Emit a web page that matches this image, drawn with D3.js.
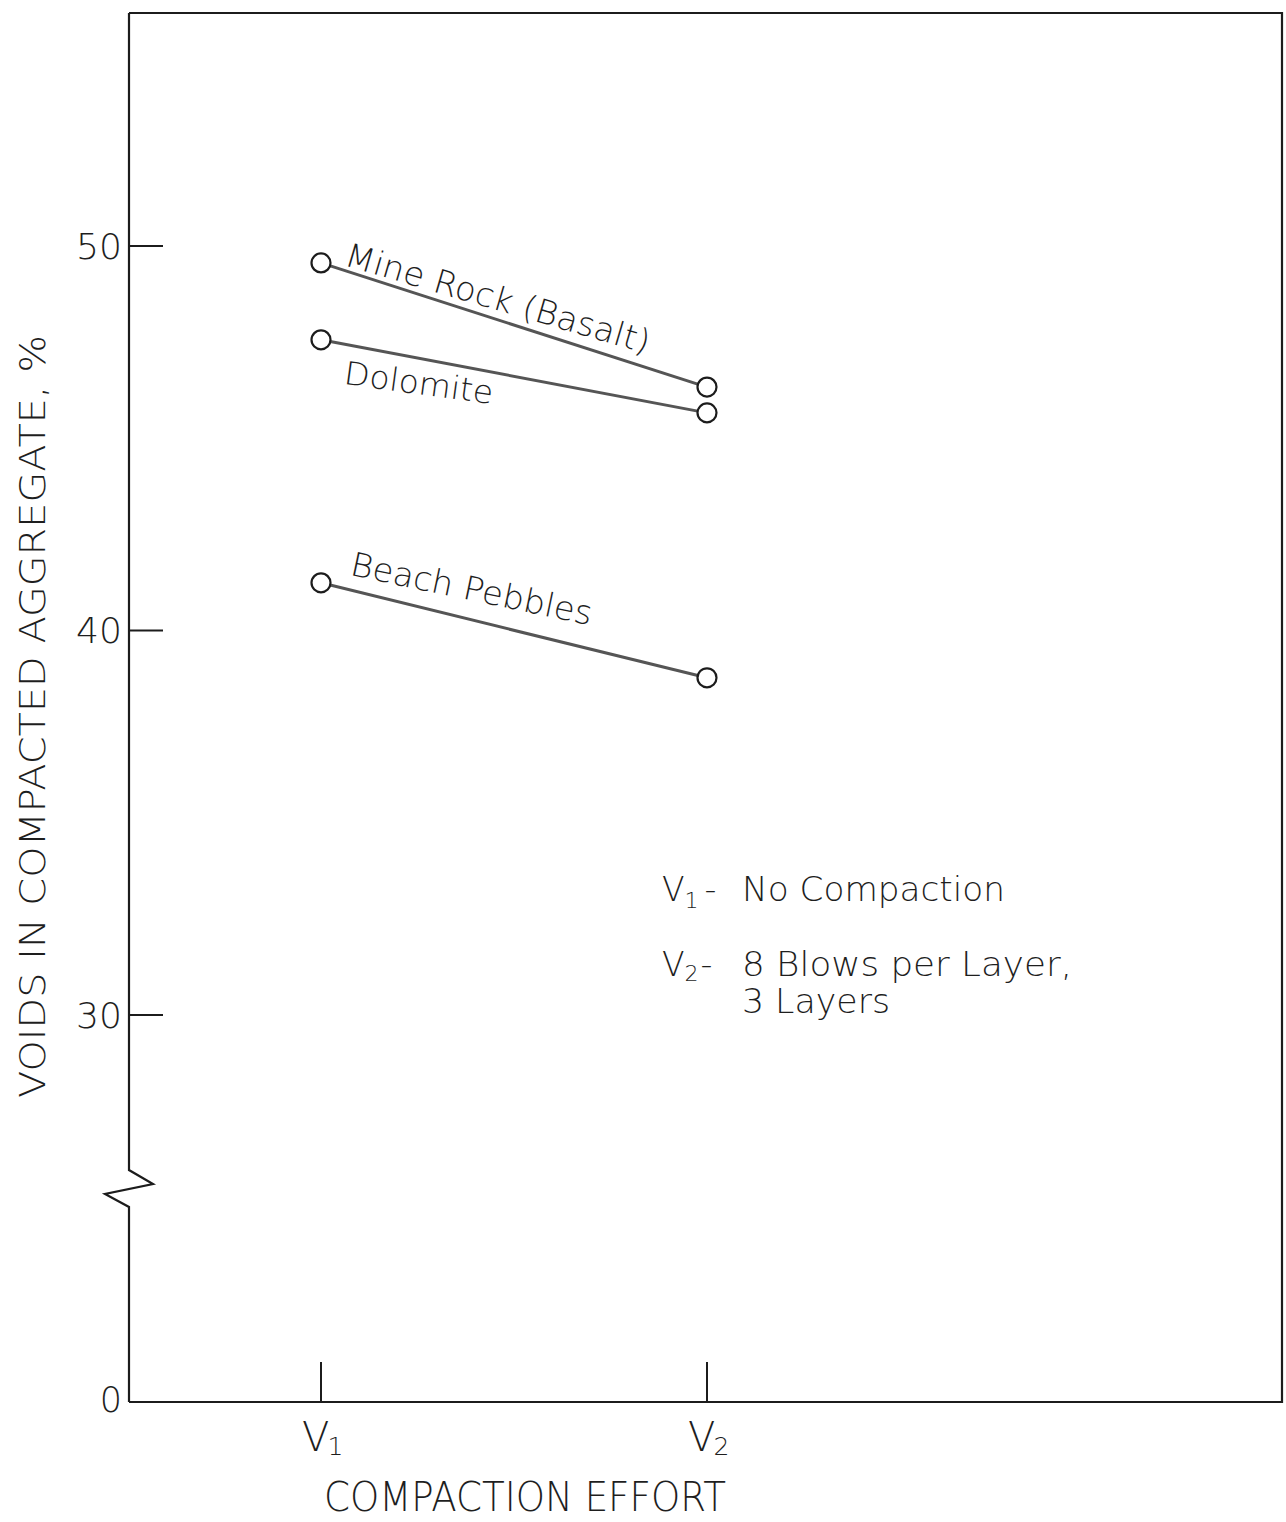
<!DOCTYPE html>
<html>
<head>
<meta charset="utf-8">
<script src="https://cdn.jsdelivr.net/npm/d3@7"></script>
<style>
  html, body { margin: 0; padding: 0; background: #fff; }
  svg text { font-family: "DejaVu Sans", sans-serif; font-weight: 200; fill: #1e1e1e; }
</style>
</head>
<body>
<svg id="chart" width="1286" height="1522"></svg>
<script>
// Compaction levels along the x axis
const categories = ["V1", "V2"];
const categorySubs = ["1", "2"];

// Voids in compacted aggregate, % (V1, V2)
const mineRock = [49.56, 46.33];
const dolomite = [47.56, 45.66];
const beachPebbles = [41.24, 38.77];

const seriesNames = ["Mine Rock (Basalt)", "Dolomite", "Beach Pebbles"];

// Y tick values and labels (axis is broken below 30, bottom reads 0)
const yTickValues = [50, 40, 30];
const yTickLabels = ["50", "40", "30"];
const yBottomValue = 20;
const yBottomLabel = "0";

const svg = d3.select("#chart");

const frame = { left: 129, right: 1282, top: 13, bottom: 1402 };

const x = d3.scalePoint().domain(categories).range([321, 707]);
const y = d3.scaleLinear().domain([30, 50]).range([1015, 246]);

const ink = "#1c1c1c";

// Frame: top, right, bottom edges
svg.append("path")
  .attr("d", `M${frame.left},${frame.top} H${frame.right} V${frame.bottom} H${frame.left}`)
  .attr("fill", "none").attr("stroke", ink).attr("stroke-width", 2.2);

// Left axis with break symbol
const breakTop = 1170, breakBot = 1207;
svg.append("path")
  .attr("d", `M${frame.left},${frame.top} V${breakTop} L${frame.left + 24},${breakTop + 14} L${frame.left - 24},${breakTop + 24} L${frame.left},${breakBot} V${frame.bottom}`)
  .attr("fill", "none").attr("stroke", ink).attr("stroke-width", 2.2)
  .attr("stroke-linejoin", "miter");

// Y ticks (inward) and labels
const yAxis = svg.append("g");
yAxis.selectAll("line").data(yTickValues).join("line")
  .attr("x1", frame.left).attr("x2", frame.left + 34)
  .attr("y1", d => y(d)).attr("y2", d => y(d))
  .attr("stroke", ink).attr("stroke-width", 2);
yAxis.selectAll("text").data(yTickValues).join("text")
  .attr("x", frame.left - 7).attr("y", d => y(d))
  .attr("dy", "0.36em")
  .attr("text-anchor", "end")
  .attr("font-size", 35)
  .attr("textLength", 46).attr("lengthAdjust", "spacingAndGlyphs")
  .text((d, i) => yTickLabels[i]);
yAxis.append("text")
  .attr("x", frame.left - 7).attr("y", y(yBottomValue))
  .attr("dy", "0.36em").attr("text-anchor", "end")
  .attr("font-size", 35)
  .text(yBottomLabel);

// X ticks (inward) and labels with subscripts
const xAxis = svg.append("g");
xAxis.selectAll("line").data(categories).join("line")
  .attr("x1", d => x(d)).attr("x2", d => x(d))
  .attr("y1", frame.bottom).attr("y2", frame.bottom - 40)
  .attr("stroke", ink).attr("stroke-width", 2);
const xl = xAxis.selectAll("text").data(categories).join("text")
  .attr("x", d => x(d) - 19).attr("y", 1451)
  .attr("font-size", 40);
xl.append("tspan").text("V");
xl.append("tspan").attr("font-size", 25).attr("dy", 4).attr("dx", -2).text((d, i) => categorySubs[i]);

svg.append("text")
  .attr("x", 324).attr("y", 1511)
  .attr("font-size", 41)
  .attr("textLength", 402).attr("lengthAdjust", "spacingAndGlyphs")
  .text("COMPACTION EFFORT");

svg.append("text")
  .attr("transform", "translate(45,1098) rotate(-90)")
  .attr("font-size", 36)
  .attr("textLength", 763).attr("lengthAdjust", "spacingAndGlyphs")
  .text("VOIDS IN COMPACTED AGGREGATE, %");

// Series lines and open markers
const series = [mineRock, dolomite, beachPebbles];
const line = d3.line().x((d, i) => x(categories[i])).y(d => y(d));
const g = svg.append("g");
g.selectAll("path.series").data(series).join("path")
  .attr("class", "series")
  .attr("d", line)
  .attr("fill", "none").attr("stroke", "#555").attr("stroke-width", 3);
series.forEach(vals => {
  g.selectAll(null).data(vals).join("circle")
    .attr("cx", (d, i) => x(categories[i]))
    .attr("cy", d => y(d))
    .attr("r", 9.5)
    .attr("fill", "#fff").attr("stroke", ink).attr("stroke-width", 2.2);
});

// Series labels, set along each line
function seriesLabel(vals, text, offX, offY, size, len, tilt) {
  const x0 = x(categories[0]), x1 = x(categories[1]);
  const y0 = y(vals[0]), y1 = y(vals[1]);
  const ang = Math.atan2(y1 - y0, x1 - x0) * 180 / Math.PI;
  svg.append("text")
    .attr("transform", `translate(${x0 + offX},${y0 + offY}) rotate(${ang + tilt})`)
    .attr("font-size", size)
    .attr("textLength", len).attr("lengthAdjust", "spacingAndGlyphs")
    .text(text);
}
seriesLabel(mineRock, seriesNames[0], 22, 2, 33, 316, -1.5);
seriesLabel(dolomite, seriesNames[1], 22, 44, 32, 150, -3);
seriesLabel(beachPebbles, seriesNames[2], 28, -8, 33, 246, -2);

// Legend for compaction levels
const legend = svg.append("g").attr("font-size", 33);
const l1 = legend.append("text").attr("x", 662).attr("y", 901);
l1.append("tspan").text("V");
l1.append("tspan").attr("font-size", 22).attr("dy", 7).text(categorySubs[0]);
l1.append("tspan").attr("dy", -7).attr("dx", 6).text("-");
legend.append("text").attr("x", 742).attr("y", 901)
  .attr("textLength", 263).attr("lengthAdjust", "spacingAndGlyphs").text("No Compaction");
const l2 = legend.append("text").attr("x", 662).attr("y", 976);
l2.append("tspan").text("V");
l2.append("tspan").attr("font-size", 22).attr("dy", 5).text(categorySubs[1]);
l2.append("tspan").attr("dy", -5).attr("dx", 2).text("-");
legend.append("text").attr("x", 742).attr("y", 976)
  .attr("textLength", 330).attr("lengthAdjust", "spacingAndGlyphs").text("8 Blows per Layer,");
legend.append("text").attr("x", 742).attr("y", 1013)
  .attr("textLength", 148).attr("lengthAdjust", "spacingAndGlyphs").text("3 Layers");
</script>
</body>
</html>
